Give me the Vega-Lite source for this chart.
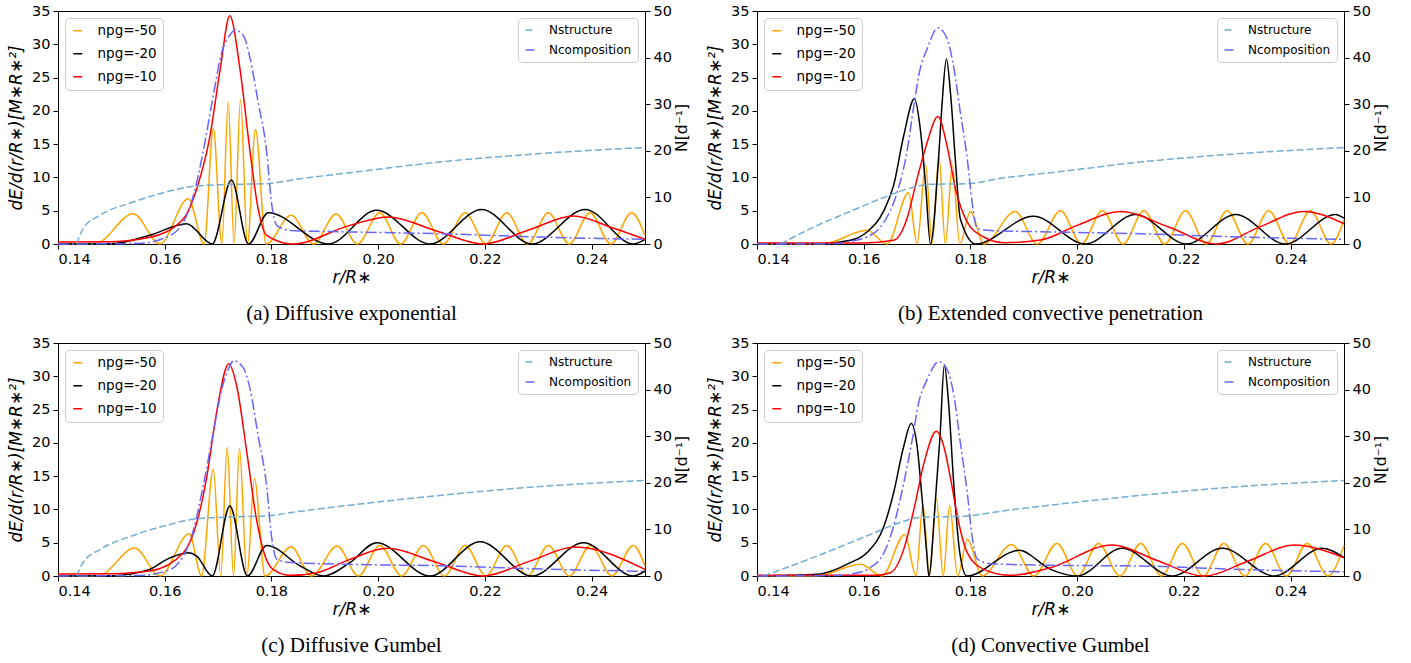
{
  "$schema": "https://vega.github.io/schema/vega-lite/v6.json",
  "padding": {"left": 7, "top": 2, "right": 0, "bottom": 0},
  "background": "white",
  "config": {
    "view": {"stroke": "black", "strokeWidth": 1},
    "axis": {"domainColor": "black", "tickColor": "black", "labelColor": "black", "titleColor": "black", "labelFont": "DejaVu Sans", "titleFont": "DejaVu Sans", "labelFontSize": 14.5, "titleFontSize": 17, "titleFontWeight": "normal", "grid": false, "tickSize": 5, "labelPadding": 3, "domainWidth": 1, "tickWidth": 1},
    "legend": {"labelFont": "DejaVu Sans", "labelFontSize": 13.5, "labelColor": "black", "symbolType": "stroke", "symbolStrokeWidth": 1.5, "symbolSize": 80, "padding": 6, "fillColor": "rgba(255,255,255,0.85)", "strokeColor": "#cccccc", "cornerRadius": 4, "rowPadding": 8, "offset": 7, "labelOffset": 13},
    "title": {"font": "Liberation Serif", "fontSize": 21, "fontWeight": "normal", "color": "black", "orient": "bottom", "anchor": "middle", "frame": "group", "offset": 17}
  },
  "datasets": {
    "a_m": [
      {"r":0.14,"v":0,"s":"npg=-50"},{"r":0.147,"v":0.05,"s":"npg=-50"},{"r":0.1541,"v":4.55,"s":"npg=-50"},{"r":0.1591,"v":0,"s":"npg=-50"},{"r":0.1644,"v":6.8,"s":"npg=-50"},{"r":0.1674,"v":0,"s":"npg=-50"},{"r":0.1691,"v":17.3,"s":"npg=-50"},{"r":0.1707,"v":0,"s":"npg=-50"},{"r":0.1719,"v":21.3,"s":"npg=-50"},{"r":0.173,"v":0,"s":"npg=-50"},{"r":0.1742,"v":21.7,"s":"npg=-50"},{"r":0.1755,"v":0,"s":"npg=-50"},{"r":0.177,"v":17.2,"s":"npg=-50"},{"r":0.179,"v":0,"s":"npg=-50"},{"r":0.1837,"v":4.3,"s":"npg=-50"},{"r":0.1879,"v":0,"s":"npg=-50"},{"r":0.1921,"v":4.5,"s":"npg=-50"},{"r":0.1961,"v":0,"s":"npg=-50"},{"r":0.2003,"v":4.7,"s":"npg=-50"},{"r":0.2042,"v":0,"s":"npg=-50"},{"r":0.2082,"v":4.7,"s":"npg=-50"},{"r":0.2122,"v":0,"s":"npg=-50"},{"r":0.2163,"v":4.7,"s":"npg=-50"},{"r":0.2202,"v":0,"s":"npg=-50"},{"r":0.2241,"v":4.7,"s":"npg=-50"},{"r":0.228,"v":0,"s":"npg=-50"},{"r":0.2319,"v":4.7,"s":"npg=-50"},{"r":0.2358,"v":0,"s":"npg=-50"},{"r":0.2397,"v":4.7,"s":"npg=-50"},{"r":0.2436,"v":0,"s":"npg=-50"},{"r":0.2475,"v":4.7,"s":"npg=-50"},{"r":0.25,"v":1.3,"s":"npg=-50"},
      {"r":0.14,"v":0,"s":"npg=-20"},{"r":0.15,"v":0.05,"s":"npg=-20"},{"r":0.1572,"v":1.3,"s":"npg=-20"},{"r":0.1641,"v":3.05,"s":"npg=-20"},{"r":0.1689,"v":0,"s":"npg=-20"},{"r":0.1725,"v":9.6,"s":"npg=-20"},{"r":0.1757,"v":0,"s":"npg=-20"},{"r":0.1794,"v":4.7,"s":"npg=-20"},{"r":0.1907,"v":0,"s":"npg=-20"},{"r":0.1997,"v":5.06,"s":"npg=-20"},{"r":0.2097,"v":0,"s":"npg=-20"},{"r":0.2194,"v":5.2,"s":"npg=-20"},{"r":0.2288,"v":0,"s":"npg=-20"},{"r":0.2388,"v":5.2,"s":"npg=-20"},{"r":0.2478,"v":0,"s":"npg=-20"},{"r":0.25,"v":0.7,"s":"npg=-20"},
      {"r":0.14,"v":0.3,"s":"npg=-10"},{"r":0.15,"v":0.35,"s":"npg=-10"},{"r":0.1572,"v":1.0,"s":"npg=-10"},{"r":0.1635,"v":3.8,"s":"npg=-10"},{"r":0.166,"v":8.3,"s":"npg=-10"},{"r":0.1685,"v":16.3,"s":"npg=-10"},{"r":0.1704,"v":26.3,"s":"npg=-10"},{"r":0.1722,"v":34.3,"s":"npg=-10"},{"r":0.1741,"v":26.3,"s":"npg=-10"},{"r":0.176,"v":13.8,"s":"npg=-10"},{"r":0.1775,"v":5.3,"s":"npg=-10"},{"r":0.1791,"v":1.3,"s":"npg=-10"},{"r":0.184,"v":0,"s":"npg=-10"},{"r":0.1947,"v":2.8,"s":"npg=-10"},{"r":0.2019,"v":4.06,"s":"npg=-10"},{"r":0.2108,"v":2.0,"s":"npg=-10"},{"r":0.2197,"v":0,"s":"npg=-10"},{"r":0.2282,"v":2.1,"s":"npg=-10"},{"r":0.2366,"v":4.2,"s":"npg=-10"},{"r":0.244,"v":2.4,"s":"npg=-10"},{"r":0.25,"v":0.7,"s":"npg=-10"}
    ],
    "a_n": [
      {"r":0.1435,"v":0,"s":"Nstructure"},{"r":0.1447,"v":3.3,"s":"Nstructure"},{"r":0.1479,"v":6.2,"s":"Nstructure"},{"r":0.1541,"v":9.0,"s":"Nstructure"},{"r":0.1604,"v":11.2,"s":"Nstructure"},{"r":0.1654,"v":12.4,"s":"Nstructure"},{"r":0.1729,"v":12.8,"s":"Nstructure"},{"r":0.1791,"v":12.95,"s":"Nstructure"},{"r":0.1854,"v":14.0,"s":"Nstructure"},{"r":0.1947,"v":15.3,"s":"Nstructure"},{"r":0.2116,"v":17.6,"s":"Nstructure"},{"r":0.2303,"v":19.4,"s":"Nstructure"},{"r":0.25,"v":20.7,"s":"Nstructure"},
      {"r":0.14,"v":0,"s":"Ncomposition"},{"r":0.155,"v":0.1,"s":"Ncomposition"},{"r":0.1604,"v":1.5,"s":"Ncomposition"},{"r":0.1635,"v":4.7,"s":"Ncomposition"},{"r":0.1654,"v":10.5,"s":"Ncomposition"},{"r":0.1672,"v":19.8,"s":"Ncomposition"},{"r":0.1691,"v":31.9,"s":"Ncomposition"},{"r":0.1707,"v":41.2,"s":"Ncomposition"},{"r":0.1722,"v":44.8,"s":"Ncomposition"},{"r":0.1732,"v":45.9,"s":"Ncomposition"},{"r":0.1747,"v":44.8,"s":"Ncomposition"},{"r":0.176,"v":39.8,"s":"Ncomposition"},{"r":0.1775,"v":30.5,"s":"Ncomposition"},{"r":0.1791,"v":19.8,"s":"Ncomposition"},{"r":0.18,"v":9.0,"s":"Ncomposition"},{"r":0.181,"v":4.0,"s":"Ncomposition"},{"r":0.1835,"v":2.9,"s":"Ncomposition"},{"r":0.1947,"v":2.6,"s":"Ncomposition"},{"r":0.2116,"v":2.2,"s":"Ncomposition"},{"r":0.2303,"v":1.5,"s":"Ncomposition"},{"r":0.25,"v":1.0,"s":"Ncomposition"}
    ],
    "b_m": [
      {"r":0.14,"v":0,"s":"npg=-50"},{"r":0.1525,"v":0.05,"s":"npg=-50"},{"r":0.1606,"v":2.05,"s":"npg=-50"},{"r":0.1644,"v":0,"s":"npg=-50"},{"r":0.1684,"v":7.7,"s":"npg=-50"},{"r":0.17,"v":0,"s":"npg=-50"},{"r":0.1716,"v":11.9,"s":"npg=-50"},{"r":0.1728,"v":0,"s":"npg=-50"},{"r":0.1741,"v":13.05,"s":"npg=-50"},{"r":0.1753,"v":0,"s":"npg=-50"},{"r":0.1766,"v":11.8,"s":"npg=-50"},{"r":0.178,"v":0,"s":"npg=-50"},{"r":0.18,"v":4.9,"s":"npg=-50"},{"r":0.1825,"v":0,"s":"npg=-50"},{"r":0.1884,"v":4.9,"s":"npg=-50"},{"r":0.1925,"v":0,"s":"npg=-50"},{"r":0.1969,"v":5.0,"s":"npg=-50"},{"r":0.2008,"v":0,"s":"npg=-50"},{"r":0.2047,"v":5.0,"s":"npg=-50"},{"r":0.2086,"v":0,"s":"npg=-50"},{"r":0.2125,"v":5.0,"s":"npg=-50"},{"r":0.2164,"v":0,"s":"npg=-50"},{"r":0.2203,"v":5.0,"s":"npg=-50"},{"r":0.2242,"v":0,"s":"npg=-50"},{"r":0.2281,"v":5.0,"s":"npg=-50"},{"r":0.232,"v":0,"s":"npg=-50"},{"r":0.2359,"v":5.0,"s":"npg=-50"},{"r":0.2398,"v":0,"s":"npg=-50"},{"r":0.2437,"v":5.0,"s":"npg=-50"},{"r":0.2476,"v":0,"s":"npg=-50"},{"r":0.25,"v":3.6,"s":"npg=-50"},
      {"r":0.14,"v":0,"s":"npg=-20"},{"r":0.152,"v":0.05,"s":"npg=-20"},{"r":0.1575,"v":0.55,"s":"npg=-20"},{"r":0.1606,"v":1.8,"s":"npg=-20"},{"r":0.1638,"v":5.05,"s":"npg=-20"},{"r":0.1656,"v":8.8,"s":"npg=-20"},{"r":0.1675,"v":16.3,"s":"npg=-20"},{"r":0.1695,"v":21.8,"s":"npg=-20"},{"r":0.1706,"v":17.3,"s":"npg=-20"},{"r":0.1716,"v":8.8,"s":"npg=-20"},{"r":0.1725,"v":0,"s":"npg=-20"},{"r":0.1741,"v":13.8,"s":"npg=-20"},{"r":0.1747,"v":21.3,"s":"npg=-20"},{"r":0.1755,"v":27.8,"s":"npg=-20"},{"r":0.1763,"v":22.3,"s":"npg=-20"},{"r":0.1772,"v":12.3,"s":"npg=-20"},{"r":0.1781,"v":3.8,"s":"npg=-20"},{"r":0.181,"v":0,"s":"npg=-20"},{"r":0.1918,"v":4.15,"s":"npg=-20"},{"r":0.2015,"v":0,"s":"npg=-20"},{"r":0.2109,"v":4.45,"s":"npg=-20"},{"r":0.2205,"v":0,"s":"npg=-20"},{"r":0.2297,"v":4.45,"s":"npg=-20"},{"r":0.239,"v":0,"s":"npg=-20"},{"r":0.2484,"v":4.45,"s":"npg=-20"},{"r":0.25,"v":3.9,"s":"npg=-20"},
      {"r":0.14,"v":0.15,"s":"npg=-10"},{"r":0.16,"v":0.15,"s":"npg=-10"},{"r":0.1656,"v":0.55,"s":"npg=-10"},{"r":0.1681,"v":3.8,"s":"npg=-10"},{"r":0.17,"v":9.8,"s":"npg=-10"},{"r":0.1719,"v":15.3,"s":"npg=-10"},{"r":0.1739,"v":19.15,"s":"npg=-10"},{"r":0.1756,"v":14.8,"s":"npg=-10"},{"r":0.1772,"v":8.3,"s":"npg=-10"},{"r":0.1794,"v":3.3,"s":"npg=-10"},{"r":0.1825,"v":1.05,"s":"npg=-10"},{"r":0.1863,"v":0.2,"s":"npg=-10"},{"r":0.1931,"v":0.6,"s":"npg=-10"},{"r":0.2,"v":2.8,"s":"npg=-10"},{"r":0.2081,"v":4.9,"s":"npg=-10"},{"r":0.217,"v":2.6,"s":"npg=-10"},{"r":0.2262,"v":0,"s":"npg=-10"},{"r":0.234,"v":2.5,"s":"npg=-10"},{"r":0.2425,"v":4.9,"s":"npg=-10"},{"r":0.25,"v":3.05,"s":"npg=-10"}
    ],
    "b_n": [
      {"r":0.1444,"v":0,"s":"Nstructure"},{"r":0.15,"v":3.3,"s":"Nstructure"},{"r":0.1575,"v":7.0,"s":"Nstructure"},{"r":0.1638,"v":10.0,"s":"Nstructure"},{"r":0.1688,"v":12.0,"s":"Nstructure"},{"r":0.1725,"v":12.8,"s":"Nstructure"},{"r":0.1794,"v":12.95,"s":"Nstructure"},{"r":0.1863,"v":14.2,"s":"Nstructure"},{"r":0.195,"v":15.3,"s":"Nstructure"},{"r":0.2119,"v":17.6,"s":"Nstructure"},{"r":0.2306,"v":19.4,"s":"Nstructure"},{"r":0.25,"v":20.7,"s":"Nstructure"},
      {"r":0.14,"v":0,"s":"Ncomposition"},{"r":0.155,"v":0.1,"s":"Ncomposition"},{"r":0.1575,"v":0.6,"s":"Ncomposition"},{"r":0.1606,"v":1.5,"s":"Ncomposition"},{"r":0.1638,"v":4.7,"s":"Ncomposition"},{"r":0.1663,"v":11.2,"s":"Ncomposition"},{"r":0.1681,"v":19.8,"s":"Ncomposition"},{"r":0.1694,"v":29.8,"s":"Ncomposition"},{"r":0.1706,"v":37.7,"s":"Ncomposition"},{"r":0.1719,"v":41.9,"s":"Ncomposition"},{"r":0.1739,"v":46.4,"s":"Ncomposition"},{"r":0.1756,"v":44.1,"s":"Ncomposition"},{"r":0.1769,"v":37.7,"s":"Ncomposition"},{"r":0.1781,"v":28.3,"s":"Ncomposition"},{"r":0.1794,"v":18.3,"s":"Ncomposition"},{"r":0.1803,"v":9.0,"s":"Ncomposition"},{"r":0.1813,"v":3.3,"s":"Ncomposition"},{"r":0.1838,"v":2.9,"s":"Ncomposition"},{"r":0.195,"v":2.6,"s":"Ncomposition"},{"r":0.2119,"v":2.2,"s":"Ncomposition"},{"r":0.2306,"v":1.5,"s":"Ncomposition"},{"r":0.25,"v":1.0,"s":"Ncomposition"}
    ],
    "c_m": [
      {"r":0.14,"v":0,"s":"npg=-50"},{"r":0.1476,"v":0.05,"s":"npg=-50"},{"r":0.1544,"v":4.2,"s":"npg=-50"},{"r":0.1591,"v":0,"s":"npg=-50"},{"r":0.1646,"v":6.35,"s":"npg=-50"},{"r":0.1669,"v":0,"s":"npg=-50"},{"r":0.1691,"v":16.0,"s":"npg=-50"},{"r":0.1705,"v":0,"s":"npg=-50"},{"r":0.1717,"v":19.35,"s":"npg=-50"},{"r":0.1729,"v":0,"s":"npg=-50"},{"r":0.174,"v":19.15,"s":"npg=-50"},{"r":0.1754,"v":0,"s":"npg=-50"},{"r":0.1768,"v":14.6,"s":"npg=-50"},{"r":0.1788,"v":0,"s":"npg=-50"},{"r":0.1837,"v":4.4,"s":"npg=-50"},{"r":0.1875,"v":0,"s":"npg=-50"},{"r":0.1923,"v":4.5,"s":"npg=-50"},{"r":0.1963,"v":0,"s":"npg=-50"},{"r":0.2003,"v":4.6,"s":"npg=-50"},{"r":0.2044,"v":0,"s":"npg=-50"},{"r":0.2085,"v":4.6,"s":"npg=-50"},{"r":0.2124,"v":0,"s":"npg=-50"},{"r":0.2163,"v":4.6,"s":"npg=-50"},{"r":0.2202,"v":0,"s":"npg=-50"},{"r":0.2241,"v":4.6,"s":"npg=-50"},{"r":0.228,"v":0,"s":"npg=-50"},{"r":0.2319,"v":4.6,"s":"npg=-50"},{"r":0.2358,"v":0,"s":"npg=-50"},{"r":0.2398,"v":4.6,"s":"npg=-50"},{"r":0.2438,"v":0,"s":"npg=-50"},{"r":0.2478,"v":4.6,"s":"npg=-50"},{"r":0.25,"v":1.5,"s":"npg=-50"},
      {"r":0.14,"v":0,"s":"npg=-20"},{"r":0.15,"v":0.05,"s":"npg=-20"},{"r":0.1572,"v":1.0,"s":"npg=-20"},{"r":0.1604,"v":2.5,"s":"npg=-20"},{"r":0.1644,"v":3.5,"s":"npg=-20"},{"r":0.166,"v":3.0,"s":"npg=-20"},{"r":0.1689,"v":0,"s":"npg=-20"},{"r":0.1722,"v":10.5,"s":"npg=-20"},{"r":0.1755,"v":0,"s":"npg=-20"},{"r":0.1791,"v":4.6,"s":"npg=-20"},{"r":0.1854,"v":1.5,"s":"npg=-20"},{"r":0.1897,"v":0,"s":"npg=-20"},{"r":0.1947,"v":2.0,"s":"npg=-20"},{"r":0.1997,"v":5.0,"s":"npg=-20"},{"r":0.2097,"v":0,"s":"npg=-20"},{"r":0.2191,"v":5.15,"s":"npg=-20"},{"r":0.2288,"v":0,"s":"npg=-20"},{"r":0.2385,"v":5.0,"s":"npg=-20"},{"r":0.2478,"v":0,"s":"npg=-20"},{"r":0.25,"v":0.75,"s":"npg=-20"},
      {"r":0.14,"v":0.3,"s":"npg=-10"},{"r":0.15,"v":0.35,"s":"npg=-10"},{"r":0.1572,"v":0.75,"s":"npg=-10"},{"r":0.1635,"v":3.5,"s":"npg=-10"},{"r":0.166,"v":8.0,"s":"npg=-10"},{"r":0.1679,"v":15.0,"s":"npg=-10"},{"r":0.1697,"v":24.5,"s":"npg=-10"},{"r":0.172,"v":31.9,"s":"npg=-10"},{"r":0.1735,"v":28.5,"s":"npg=-10"},{"r":0.1754,"v":18.5,"s":"npg=-10"},{"r":0.1772,"v":8.5,"s":"npg=-10"},{"r":0.1788,"v":3.0,"s":"npg=-10"},{"r":0.1803,"v":1.0,"s":"npg=-10"},{"r":0.1835,"v":0.1,"s":"npg=-10"},{"r":0.1885,"v":0.5,"s":"npg=-10"},{"r":0.1947,"v":2.5,"s":"npg=-10"},{"r":0.2017,"v":4.15,"s":"npg=-10"},{"r":0.2107,"v":2.1,"s":"npg=-10"},{"r":0.2197,"v":0,"s":"npg=-10"},{"r":0.2283,"v":2.2,"s":"npg=-10"},{"r":0.2369,"v":4.35,"s":"npg=-10"},{"r":0.25,"v":1.0,"s":"npg=-10"}
    ],
    "c_n": [
      {"r":0.1435,"v":0,"s":"Nstructure"},{"r":0.1447,"v":2.9,"s":"Nstructure"},{"r":0.1479,"v":5.7,"s":"Nstructure"},{"r":0.1541,"v":8.7,"s":"Nstructure"},{"r":0.1604,"v":10.9,"s":"Nstructure"},{"r":0.1654,"v":12.2,"s":"Nstructure"},{"r":0.1729,"v":12.7,"s":"Nstructure"},{"r":0.1791,"v":12.9,"s":"Nstructure"},{"r":0.1854,"v":13.9,"s":"Nstructure"},{"r":0.1947,"v":15.2,"s":"Nstructure"},{"r":0.2116,"v":17.3,"s":"Nstructure"},{"r":0.2303,"v":19.2,"s":"Nstructure"},{"r":0.25,"v":20.5,"s":"Nstructure"},
      {"r":0.14,"v":0,"s":"Ncomposition"},{"r":0.155,"v":0.1,"s":"Ncomposition"},{"r":0.1604,"v":1.1,"s":"Ncomposition"},{"r":0.1635,"v":4.3,"s":"Ncomposition"},{"r":0.1654,"v":10.0,"s":"Ncomposition"},{"r":0.1672,"v":19.3,"s":"Ncomposition"},{"r":0.1691,"v":30.8,"s":"Ncomposition"},{"r":0.1707,"v":40.1,"s":"Ncomposition"},{"r":0.1722,"v":45.1,"s":"Ncomposition"},{"r":0.1729,"v":46.2,"s":"Ncomposition"},{"r":0.1747,"v":44.7,"s":"Ncomposition"},{"r":0.176,"v":40.1,"s":"Ncomposition"},{"r":0.1775,"v":30.1,"s":"Ncomposition"},{"r":0.1791,"v":19.3,"s":"Ncomposition"},{"r":0.18,"v":8.6,"s":"Ncomposition"},{"r":0.181,"v":3.6,"s":"Ncomposition"},{"r":0.1835,"v":2.9,"s":"Ncomposition"},{"r":0.1947,"v":2.5,"s":"Ncomposition"},{"r":0.2116,"v":2.2,"s":"Ncomposition"},{"r":0.2303,"v":1.5,"s":"Ncomposition"},{"r":0.25,"v":1.0,"s":"Ncomposition"}
    ],
    "d_m": [
      {"r":0.14,"v":0,"s":"npg=-50"},{"r":0.1513,"v":0.05,"s":"npg=-50"},{"r":0.1594,"v":1.75,"s":"npg=-50"},{"r":0.1634,"v":0,"s":"npg=-50"},{"r":0.1677,"v":6.25,"s":"npg=-50"},{"r":0.1698,"v":0,"s":"npg=-50"},{"r":0.1711,"v":10.65,"s":"npg=-50"},{"r":0.1723,"v":0,"s":"npg=-50"},{"r":0.1736,"v":11.6,"s":"npg=-50"},{"r":0.1749,"v":0,"s":"npg=-50"},{"r":0.1761,"v":10.6,"s":"npg=-50"},{"r":0.1776,"v":0,"s":"npg=-50"},{"r":0.1794,"v":5.5,"s":"npg=-50"},{"r":0.1822,"v":0,"s":"npg=-50"},{"r":0.1877,"v":4.75,"s":"npg=-50"},{"r":0.1919,"v":0,"s":"npg=-50"},{"r":0.1962,"v":4.9,"s":"npg=-50"},{"r":0.2001,"v":0,"s":"npg=-50"},{"r":0.204,"v":4.9,"s":"npg=-50"},{"r":0.208,"v":0,"s":"npg=-50"},{"r":0.2119,"v":4.9,"s":"npg=-50"},{"r":0.2158,"v":0,"s":"npg=-50"},{"r":0.2197,"v":4.9,"s":"npg=-50"},{"r":0.2236,"v":0,"s":"npg=-50"},{"r":0.2275,"v":4.9,"s":"npg=-50"},{"r":0.2314,"v":0,"s":"npg=-50"},{"r":0.2353,"v":4.9,"s":"npg=-50"},{"r":0.2392,"v":0,"s":"npg=-50"},{"r":0.2431,"v":4.9,"s":"npg=-50"},{"r":0.247,"v":0,"s":"npg=-50"},{"r":0.25,"v":4.6,"s":"npg=-50"},
      {"r":0.14,"v":0,"s":"npg=-20"},{"r":0.1513,"v":0.25,"s":"npg=-20"},{"r":0.1575,"v":2.0,"s":"npg=-20"},{"r":0.1606,"v":3.5,"s":"npg=-20"},{"r":0.1638,"v":7.5,"s":"npg=-20"},{"r":0.1656,"v":12.5,"s":"npg=-20"},{"r":0.1675,"v":19.5,"s":"npg=-20"},{"r":0.1689,"v":22.9,"s":"npg=-20"},{"r":0.17,"v":19.5,"s":"npg=-20"},{"r":0.1709,"v":12.0,"s":"npg=-20"},{"r":0.1718,"v":3.5,"s":"npg=-20"},{"r":0.1722,"v":0,"s":"npg=-20"},{"r":0.1734,"v":11.0,"s":"npg=-20"},{"r":0.1743,"v":21.0,"s":"npg=-20"},{"r":0.1751,"v":31.65,"s":"npg=-20"},{"r":0.1759,"v":26.0,"s":"npg=-20"},{"r":0.1769,"v":13.5,"s":"npg=-20"},{"r":0.178,"v":3.5,"s":"npg=-20"},{"r":0.1793,"v":0,"s":"npg=-20"},{"r":0.1891,"v":3.85,"s":"npg=-20"},{"r":0.195,"v":1.0,"s":"npg=-20"},{"r":0.2,"v":0,"s":"npg=-20"},{"r":0.2084,"v":4.15,"s":"npg=-20"},{"r":0.2178,"v":0,"s":"npg=-20"},{"r":0.2272,"v":4.15,"s":"npg=-20"},{"r":0.2369,"v":0,"s":"npg=-20"},{"r":0.2459,"v":4.15,"s":"npg=-20"},{"r":0.25,"v":2.75,"s":"npg=-20"},
      {"r":0.14,"v":0.1,"s":"npg=-10"},{"r":0.162,"v":0.1,"s":"npg=-10"},{"r":0.165,"v":0.5,"s":"npg=-10"},{"r":0.1675,"v":4.0,"s":"npg=-10"},{"r":0.1694,"v":10.0,"s":"npg=-10"},{"r":0.1713,"v":17.0,"s":"npg=-10"},{"r":0.1736,"v":21.75,"s":"npg=-10"},{"r":0.175,"v":19.5,"s":"npg=-10"},{"r":0.1763,"v":14.5,"s":"npg=-10"},{"r":0.1778,"v":8.0,"s":"npg=-10"},{"r":0.1794,"v":3.5,"s":"npg=-10"},{"r":0.1825,"v":1.0,"s":"npg=-10"},{"r":0.1875,"v":0.1,"s":"npg=-10"},{"r":0.195,"v":1.25,"s":"npg=-10"},{"r":0.2065,"v":4.65,"s":"npg=-10"},{"r":0.2151,"v":2.3,"s":"npg=-10"},{"r":0.2237,"v":0,"s":"npg=-10"},{"r":0.2322,"v":2.3,"s":"npg=-10"},{"r":0.2406,"v":4.65,"s":"npg=-10"},{"r":0.25,"v":2.75,"s":"npg=-10"}
    ],
    "d_n": [
      {"r":0.1412,"v":0,"s":"Nstructure"},{"r":0.1513,"v":4.3,"s":"Nstructure"},{"r":0.1606,"v":8.6,"s":"Nstructure"},{"r":0.1669,"v":11.5,"s":"Nstructure"},{"r":0.17,"v":12.5,"s":"Nstructure"},{"r":0.1794,"v":12.9,"s":"Nstructure"},{"r":0.1863,"v":14.0,"s":"Nstructure"},{"r":0.195,"v":15.2,"s":"Nstructure"},{"r":0.2119,"v":17.3,"s":"Nstructure"},{"r":0.2306,"v":19.2,"s":"Nstructure"},{"r":0.25,"v":20.5,"s":"Nstructure"},
      {"r":0.14,"v":0,"s":"Ncomposition"},{"r":0.155,"v":0.1,"s":"Ncomposition"},{"r":0.1575,"v":0.4,"s":"Ncomposition"},{"r":0.1606,"v":1.4,"s":"Ncomposition"},{"r":0.1638,"v":5.0,"s":"Ncomposition"},{"r":0.1656,"v":10.7,"s":"Ncomposition"},{"r":0.1675,"v":20.0,"s":"Ncomposition"},{"r":0.1691,"v":29.3,"s":"Ncomposition"},{"r":0.1703,"v":37.2,"s":"Ncomposition"},{"r":0.1719,"v":42.2,"s":"Ncomposition"},{"r":0.1741,"v":46.0,"s":"Ncomposition"},{"r":0.1756,"v":44.4,"s":"Ncomposition"},{"r":0.1769,"v":38.7,"s":"Ncomposition"},{"r":0.1781,"v":28.6,"s":"Ncomposition"},{"r":0.1794,"v":17.9,"s":"Ncomposition"},{"r":0.1803,"v":8.6,"s":"Ncomposition"},{"r":0.1813,"v":3.6,"s":"Ncomposition"},{"r":0.1838,"v":2.65,"s":"Ncomposition"},{"r":0.195,"v":2.3,"s":"Ncomposition"},{"r":0.2119,"v":2.15,"s":"Ncomposition"},{"r":0.2306,"v":1.4,"s":"Ncomposition"},{"r":0.25,"v":0.9,"s":"Ncomposition"}
    ]
  },
  "vconcat": [
    {
      "hconcat": [
        {
          "width": 587, "height": 233,
          "title": {"text": "(a) Diffusive exponential"},
          "encoding": {"x": {"field": "r", "type": "quantitative", "scale": {"domain": [0.14, 0.25], "nice": false, "zero": false}, "axis": {"values": [0.14, 0.16, 0.18, 0.2, 0.22, 0.24], "format": ".2f", "title": "r/R∗", "titleFontStyle": "italic", "titlePadding": 4}}},
          "layer": [
            {"data": {"name": "a_m"}, "mark": {"type": "line", "interpolate": "monotone", "strokeWidth": 1.5},
             "encoding": {"y": {"field": "v", "type": "quantitative", "scale": {"domain": [0, 35], "nice": false}, "axis": {"orient": "left", "values": [0, 5, 10, 15, 20, 25, 30, 35], "title": "dE/d(r/R∗)[M∗R∗²]", "titleFontStyle": "italic", "titlePadding": 6}},
               "color": {"field": "s", "type": "nominal", "scale": {"domain": ["npg=-50", "npg=-20", "npg=-10"], "range": ["#FFA500", "#000000", "#FF0000"]}, "legend": {"orient": "top-left", "title": null}}}},
            {"data": {"name": "a_n"}, "mark": {"type": "line", "interpolate": "monotone", "strokeWidth": 1.5},
             "encoding": {"y": {"field": "v", "type": "quantitative", "scale": {"domain": [0, 50], "nice": false}, "axis": {"orient": "right", "values": [0, 10, 20, 30, 40, 50], "title": "N[d⁻¹]", "titleFontSize": 15.5, "titleAngle": 270, "titleBaseline": "top", "titlePadding": 3}},
               "color": {"field": "s", "type": "nominal", "scale": {"domain": ["Nstructure", "Ncomposition"], "range": ["#73add2", "#6666ff"]}, "legend": {"orient": "top-right", "title": null, "labelFontSize": 12}},
               "strokeDash": {"field": "s", "type": "nominal", "scale": {"domain": ["Nstructure", "Ncomposition"], "range": [[7, 3], [11, 3, 2, 3]]}, "legend": {"orient": "top-right", "title": null, "labelFontSize": 12}}}}
          ],
          "resolve": {"scale": {"y": "independent", "color": "independent", "strokeDash": "independent"}, "legend": {"color": "independent", "strokeDash": "independent"}}
        },
        {
          "width": 587, "height": 233,
          "title": {"text": "(b) Extended convective penetration"},
          "encoding": {"x": {"field": "r", "type": "quantitative", "scale": {"domain": [0.14, 0.25], "nice": false, "zero": false}, "axis": {"values": [0.14, 0.16, 0.18, 0.2, 0.22, 0.24], "format": ".2f", "title": "r/R∗", "titleFontStyle": "italic", "titlePadding": 4}}},
          "layer": [
            {"data": {"name": "b_m"}, "mark": {"type": "line", "interpolate": "monotone", "strokeWidth": 1.5},
             "encoding": {"y": {"field": "v", "type": "quantitative", "scale": {"domain": [0, 35], "nice": false}, "axis": {"orient": "left", "values": [0, 5, 10, 15, 20, 25, 30, 35], "title": "dE/d(r/R∗)[M∗R∗²]", "titleFontStyle": "italic", "titlePadding": 6}},
               "color": {"field": "s", "type": "nominal", "scale": {"domain": ["npg=-50", "npg=-20", "npg=-10"], "range": ["#FFA500", "#000000", "#FF0000"]}, "legend": {"orient": "top-left", "title": null}}}},
            {"data": {"name": "b_n"}, "mark": {"type": "line", "interpolate": "monotone", "strokeWidth": 1.5},
             "encoding": {"y": {"field": "v", "type": "quantitative", "scale": {"domain": [0, 50], "nice": false}, "axis": {"orient": "right", "values": [0, 10, 20, 30, 40, 50], "title": "N[d⁻¹]", "titleFontSize": 15.5, "titleAngle": 270, "titleBaseline": "top", "titlePadding": 3}},
               "color": {"field": "s", "type": "nominal", "scale": {"domain": ["Nstructure", "Ncomposition"], "range": ["#73add2", "#6666ff"]}, "legend": {"orient": "top-right", "title": null, "labelFontSize": 12}},
               "strokeDash": {"field": "s", "type": "nominal", "scale": {"domain": ["Nstructure", "Ncomposition"], "range": [[7, 3], [11, 3, 2, 3]]}, "legend": {"orient": "top-right", "title": null, "labelFontSize": 12}}}}
          ],
          "resolve": {"scale": {"y": "independent", "color": "independent", "strokeDash": "independent"}, "legend": {"color": "independent", "strokeDash": "independent"}}
        }
      ],
      "spacing": 15,
      "resolve": {"scale": {"color": "independent", "strokeDash": "independent"}, "legend": {"color": "independent", "strokeDash": "independent"}}
    },
    {
      "hconcat": [
        {
          "width": 587, "height": 233,
          "title": {"text": "(c) Diffusive Gumbel"},
          "encoding": {"x": {"field": "r", "type": "quantitative", "scale": {"domain": [0.14, 0.25], "nice": false, "zero": false}, "axis": {"values": [0.14, 0.16, 0.18, 0.2, 0.22, 0.24], "format": ".2f", "title": "r/R∗", "titleFontStyle": "italic", "titlePadding": 4}}},
          "layer": [
            {"data": {"name": "c_m"}, "mark": {"type": "line", "interpolate": "monotone", "strokeWidth": 1.5},
             "encoding": {"y": {"field": "v", "type": "quantitative", "scale": {"domain": [0, 35], "nice": false}, "axis": {"orient": "left", "values": [0, 5, 10, 15, 20, 25, 30, 35], "title": "dE/d(r/R∗)[M∗R∗²]", "titleFontStyle": "italic", "titlePadding": 6}},
               "color": {"field": "s", "type": "nominal", "scale": {"domain": ["npg=-50", "npg=-20", "npg=-10"], "range": ["#FFA500", "#000000", "#FF0000"]}, "legend": {"orient": "top-left", "title": null}}}},
            {"data": {"name": "c_n"}, "mark": {"type": "line", "interpolate": "monotone", "strokeWidth": 1.5},
             "encoding": {"y": {"field": "v", "type": "quantitative", "scale": {"domain": [0, 50], "nice": false}, "axis": {"orient": "right", "values": [0, 10, 20, 30, 40, 50], "title": "N[d⁻¹]", "titleFontSize": 15.5, "titleAngle": 270, "titleBaseline": "top", "titlePadding": 3}},
               "color": {"field": "s", "type": "nominal", "scale": {"domain": ["Nstructure", "Ncomposition"], "range": ["#73add2", "#6666ff"]}, "legend": {"orient": "top-right", "title": null, "labelFontSize": 12}},
               "strokeDash": {"field": "s", "type": "nominal", "scale": {"domain": ["Nstructure", "Ncomposition"], "range": [[7, 3], [11, 3, 2, 3]]}, "legend": {"orient": "top-right", "title": null, "labelFontSize": 12}}}}
          ],
          "resolve": {"scale": {"y": "independent", "color": "independent", "strokeDash": "independent"}, "legend": {"color": "independent", "strokeDash": "independent"}}
        },
        {
          "width": 587, "height": 233,
          "title": {"text": "(d) Convective Gumbel"},
          "encoding": {"x": {"field": "r", "type": "quantitative", "scale": {"domain": [0.14, 0.25], "nice": false, "zero": false}, "axis": {"values": [0.14, 0.16, 0.18, 0.2, 0.22, 0.24], "format": ".2f", "title": "r/R∗", "titleFontStyle": "italic", "titlePadding": 4}}},
          "layer": [
            {"data": {"name": "d_m"}, "mark": {"type": "line", "interpolate": "monotone", "strokeWidth": 1.5},
             "encoding": {"y": {"field": "v", "type": "quantitative", "scale": {"domain": [0, 35], "nice": false}, "axis": {"orient": "left", "values": [0, 5, 10, 15, 20, 25, 30, 35], "title": "dE/d(r/R∗)[M∗R∗²]", "titleFontStyle": "italic", "titlePadding": 6}},
               "color": {"field": "s", "type": "nominal", "scale": {"domain": ["npg=-50", "npg=-20", "npg=-10"], "range": ["#FFA500", "#000000", "#FF0000"]}, "legend": {"orient": "top-left", "title": null}}}},
            {"data": {"name": "d_n"}, "mark": {"type": "line", "interpolate": "monotone", "strokeWidth": 1.5},
             "encoding": {"y": {"field": "v", "type": "quantitative", "scale": {"domain": [0, 50], "nice": false}, "axis": {"orient": "right", "values": [0, 10, 20, 30, 40, 50], "title": "N[d⁻¹]", "titleFontSize": 15.5, "titleAngle": 270, "titleBaseline": "top", "titlePadding": 3}},
               "color": {"field": "s", "type": "nominal", "scale": {"domain": ["Nstructure", "Ncomposition"], "range": ["#73add2", "#6666ff"]}, "legend": {"orient": "top-right", "title": null, "labelFontSize": 12}},
               "strokeDash": {"field": "s", "type": "nominal", "scale": {"domain": ["Nstructure", "Ncomposition"], "range": [[7, 3], [11, 3, 2, 3]]}, "legend": {"orient": "top-right", "title": null, "labelFontSize": 12}}}}
          ],
          "resolve": {"scale": {"y": "independent", "color": "independent", "strokeDash": "independent"}, "legend": {"color": "independent", "strokeDash": "independent"}}
        }
      ],
      "spacing": 15,
      "resolve": {"scale": {"color": "independent", "strokeDash": "independent"}, "legend": {"color": "independent", "strokeDash": "independent"}}
    }
  ],
  "spacing": 10,
  "resolve": {"scale": {"color": "independent", "strokeDash": "independent"}, "legend": {"color": "independent", "strokeDash": "independent"}}
}
